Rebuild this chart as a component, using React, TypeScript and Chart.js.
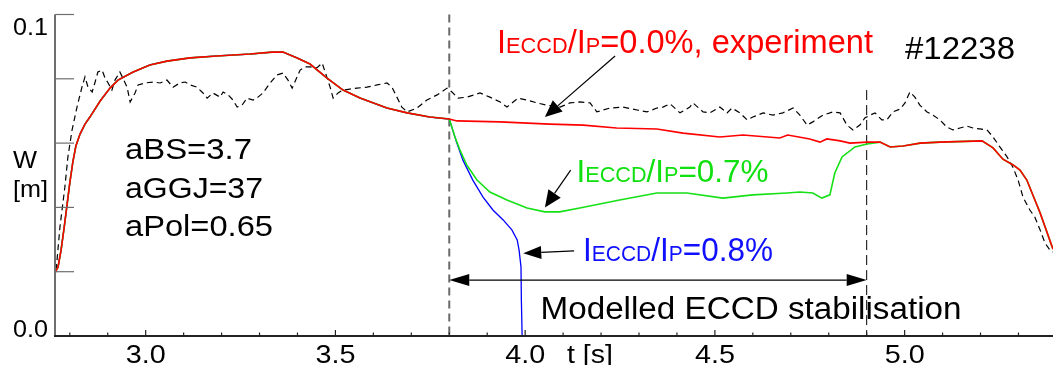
import React, { useEffect, useRef } from "react";
import { Chart, registerables } from "chart.js";

Chart.register(...registerables);

// ---------------- data (t [s], W [m]) ----------------
// common simulated part (all three ECCD cases coincide until 3.8 s)
const commonT = [2.762, 2.769, 2.777, 2.785, 2.792, 2.8, 2.808, 2.816, 2.827, 2.84, 2.853, 2.88, 2.906, 2.927, 2.967, 3.011, 3.056, 3.117, 3.188, 3.275, 3.333, 3.362, 3.399, 3.433, 3.478, 3.52, 3.565, 3.636, 3.689, 3.749, 3.8];
const commonW = [0.0199, 0.0215, 0.0267, 0.0336, 0.0401, 0.0476, 0.0541, 0.0591, 0.0628, 0.0659, 0.0681, 0.0731, 0.0771, 0.0796, 0.0821, 0.0843, 0.0855, 0.0865, 0.0871, 0.0877, 0.0883, 0.0883, 0.0865, 0.0846, 0.0802, 0.0765, 0.074, 0.0709, 0.0694, 0.0681, 0.0675];

// I_ECCD/I_P = 0.0 % during the ECCD window
const redT = [3.82, 3.933, 4.065, 4.153, 4.241, 4.347, 4.416, 4.513, 4.574, 4.671, 4.692, 4.75, 4.777, 4.795, 4.83, 4.856, 4.901];
const redW = [0.0669, 0.0666, 0.0659, 0.0656, 0.0647, 0.0644, 0.0631, 0.0619, 0.0625, 0.0616, 0.0625, 0.0613, 0.0603, 0.0613, 0.0607, 0.06, 0.0603];

// I_ECCD/I_P = 0.7 % during the ECCD window
const greenT = [3.815, 3.828, 3.846, 3.873, 3.907, 3.952, 4.005, 4.052, 4.091, 4.144, 4.249, 4.347, 4.426, 4.521, 4.6, 4.69, 4.724, 4.758, 4.782, 4.803, 4.816, 4.835, 4.869, 4.901];
const greenW = [0.0619, 0.0579, 0.0532, 0.0485, 0.0448, 0.0423, 0.0398, 0.0386, 0.0386, 0.0398, 0.0423, 0.0445, 0.0445, 0.0429, 0.0439, 0.0445, 0.0448, 0.0445, 0.0429, 0.0439, 0.0507, 0.0557, 0.0588, 0.0597];

// I_ECCD/I_P = 0.8 % (island grows until disruption)
const blueT = [3.82, 3.836, 3.862, 3.889, 3.915, 3.942, 3.965, 3.979, 3.984, 3.989, 3.99, 3.992, 3.993];
const blueW = [0.06, 0.0547, 0.0485, 0.0432, 0.0392, 0.0361, 0.033, 0.0299, 0.0267, 0.0215, 0.0112, 0.0, -0.01];

// common tail after the ECCD window
const tailT = [4.935, 4.962, 4.996, 5.041, 5.093, 5.204, 5.233, 5.259, 5.286, 5.304, 5.322, 5.357, 5.391];
const tailW = [0.0603, 0.0588, 0.0591, 0.06, 0.0603, 0.0607, 0.0585, 0.055, 0.0532, 0.0516, 0.0485, 0.0383, 0.027];

// experiment #12238
const expT = [2.764, 2.774, 2.787, 2.795, 2.806, 2.819, 2.832, 2.84, 2.848, 2.859, 2.866, 2.874, 2.885, 2.893, 2.901, 2.911, 2.919, 2.932, 2.94, 2.951, 2.959, 2.972, 2.98, 2.998, 3.019, 3.038, 3.056, 3.072, 3.09, 3.104, 3.117, 3.135, 3.151, 3.162, 3.177, 3.196, 3.204, 3.217, 3.23, 3.241, 3.254, 3.267, 3.283, 3.296, 3.309, 3.328, 3.346, 3.362, 3.375, 3.386, 3.399, 3.407, 3.42, 3.433, 3.451, 3.465, 3.473, 3.486, 3.494, 3.507, 3.52, 3.538, 3.557, 3.583, 3.61, 3.636, 3.649, 3.662, 3.675, 3.689, 3.715, 3.741, 3.768, 3.794, 3.807, 3.823, 3.847, 3.881, 3.907, 3.934, 3.952, 3.981, 4.005, 4.031, 4.057, 4.092, 4.118, 4.144, 4.171, 4.189, 4.223, 4.258, 4.295, 4.321, 4.347, 4.363, 4.382, 4.408, 4.434, 4.442, 4.469, 4.487, 4.513, 4.532, 4.545, 4.566, 4.585, 4.6, 4.627, 4.653, 4.679, 4.706, 4.724, 4.743, 4.758, 4.785, 4.811, 4.83, 4.848, 4.864, 4.882, 4.895, 4.909, 4.922, 4.94, 4.953, 4.969, 4.988, 5.001, 5.014, 5.027, 5.04, 5.059, 5.075, 5.093, 5.111, 5.127, 5.146, 5.164, 5.18, 5.198, 5.217, 5.233, 5.251, 5.27, 5.285, 5.299, 5.312, 5.33, 5.343, 5.357, 5.37, 5.383, 5.391];
const expW = [0.0205, 0.0339, 0.0463, 0.0557, 0.0641, 0.0712, 0.0774, 0.0806, 0.0774, 0.0759, 0.0787, 0.0821, 0.0827, 0.0802, 0.0787, 0.0765, 0.0796, 0.0821, 0.0802, 0.0774, 0.0728, 0.0756, 0.0781, 0.0787, 0.079, 0.0787, 0.0796, 0.0774, 0.0787, 0.079, 0.0781, 0.0774, 0.0756, 0.074, 0.0756, 0.0743, 0.0759, 0.075, 0.0734, 0.0712, 0.0718, 0.074, 0.0734, 0.0743, 0.0756, 0.0787, 0.0812, 0.0818, 0.0796, 0.0771, 0.0806, 0.0827, 0.0837, 0.0837, 0.0834, 0.0849, 0.0821, 0.0774, 0.074, 0.0756, 0.0765, 0.0768, 0.0771, 0.0774, 0.0781, 0.0787, 0.0774, 0.0743, 0.0712, 0.0697, 0.0709, 0.0734, 0.075, 0.0771, 0.0759, 0.074, 0.0743, 0.0756, 0.0743, 0.0728, 0.0712, 0.074, 0.0734, 0.0725, 0.0718, 0.0712, 0.0725, 0.0728, 0.0725, 0.0697, 0.0709, 0.0712, 0.0703, 0.0697, 0.0709, 0.0712, 0.0722, 0.0694, 0.0712, 0.0725, 0.0697, 0.0694, 0.0712, 0.0694, 0.0709, 0.0694, 0.0672, 0.0681, 0.0694, 0.0687, 0.0694, 0.0709, 0.0687, 0.0656, 0.0666, 0.0687, 0.0697, 0.0694, 0.0656, 0.0641, 0.0656, 0.0678, 0.0687, 0.0694, 0.0672, 0.0672, 0.0697, 0.0706, 0.0725, 0.0759, 0.0743, 0.0718, 0.0697, 0.0687, 0.0672, 0.065, 0.0641, 0.0647, 0.0653, 0.0647, 0.0644, 0.0641, 0.0619, 0.0588, 0.0557, 0.0526, 0.0485, 0.0432, 0.0392, 0.037, 0.033, 0.0289, 0.0267, 0.0261];

// axis ticks
const xMajorTicks = [3.0, 3.5, 4.0, 4.5, 5.0];
const xMajorLabels = ["3.0", "3.5", "4.0", "4.5", "5.0"];
const xMinorTicks = [2.8, 2.9, 3.1, 3.2, 3.3, 3.4, 3.6, 3.7, 3.8, 3.9, 4.1, 4.2, 4.3, 4.4, 4.6, 4.7, 4.8, 4.9, 5.1, 5.2, 5.3];
const yTicks = [0.02, 0.04, 0.06, 0.08, 0.1];
const yLabelValues = [0.0, 0.1];
const yLabels = ["0.0", "0.1"];

// ECCD window
const eccdStart = 3.8;
const eccdEnd = 4.9;

const X_MIN = 2.761;
const X_MAX = 5.391;

// ---------------- helpers ----------------
const FONT = '"Liberation Sans", Arial, Helvetica, sans-serif';
type Part = { t: string; s: number };

const pts = (ts: number[], ws: number[]) => ts.map((t, i) => ({ x: t, y: ws[i] }));

function drawFit(
  ctx: CanvasRenderingContext2D,
  parts: Part[],
  x: number,
  base: number,
  width: number,
  color: string,
  align: "left" | "center" | "right" = "left"
) {
  ctx.save();
  let total = 0;
  const ws = parts.map((p) => {
    ctx.font = `${p.s}px ${FONT}`;
    const w = ctx.measureText(p.t).width;
    total += w;
    return w;
  });
  const sx = width / total;
  const x0 = align === "left" ? x : align === "center" ? x - width / 2 : x - width;
  ctx.translate(x0, base);
  ctx.scale(sx, 1);
  ctx.fillStyle = color;
  ctx.textBaseline = "alphabetic";
  ctx.textAlign = "left";
  let cx = 0;
  parts.forEach((p, i) => {
    ctx.font = `${p.s}px ${FONT}`;
    ctx.fillText(p.t, cx, 0);
    cx += ws[i];
  });
  ctx.restore();
}

function arrowHead(ctx: CanvasRenderingContext2D, fx: number, fy: number, tx: number, ty: number, len: number, half: number) {
  const a = Math.atan2(ty - fy, tx - fx);
  const bx = tx - len * Math.cos(a);
  const by = ty - len * Math.sin(a);
  ctx.beginPath();
  ctx.moveTo(tx, ty);
  ctx.lineTo(bx + half * Math.sin(a), by - half * Math.cos(a));
  ctx.lineTo(bx - half * Math.sin(a), by + half * Math.cos(a));
  ctx.closePath();
  ctx.fill();
  return [bx, by];
}

function arrow(ctx: CanvasRenderingContext2D, x1: number, y1: number, x2: number, y2: number, len: number, half: number) {
  const [bx, by] = arrowHead(ctx, x1, y1, x2, y2, len, half);
  ctx.beginPath();
  ctx.moveTo(x1, y1);
  ctx.lineTo(bx, by);
  ctx.stroke();
}

function eccdLabel(ratio: string, big: number, small: number): Part[] {
  return [
    { t: "I", s: big },
    { t: "ECCD", s: small },
    { t: "/I", s: big },
    { t: "P", s: small },
    { t: ratio, s: big },
  ];
}

const overlay = {
  id: "overlay",
  beforeDatasetsDraw(chart: any) {
    const { ctx } = chart;
    const xs = chart.scales.x;
    const ys = chart.scales.y;
    ctx.save();
    // ECCD window markers
    ctx.strokeStyle = "#6a6a6a";
    ctx.lineWidth = 2;
    ctx.setLineDash([8, 5]);
    const xa = xs.getPixelForValue(eccdStart);
    ctx.beginPath();
    ctx.moveTo(xa, ys.getPixelForValue(0.1));
    ctx.lineTo(xa, ys.getPixelForValue(0));
    ctx.stroke();
    ctx.strokeStyle = "#000";
    ctx.lineWidth = 1;
    ctx.setLineDash([10, 5]);
    const xb = xs.getPixelForValue(eccdEnd);
    ctx.beginPath();
    ctx.moveTo(xb, ys.getPixelForValue(0.0765));
    ctx.lineTo(xb, ys.getPixelForValue(0));
    ctx.stroke();
    ctx.restore();
  },
  afterDatasetsDraw(chart: any) {
    const { ctx } = chart;
    const xs = chart.scales.x;
    const ys = chart.scales.y;
    const left = chart.chartArea.left;
    const right = chart.chartArea.right;
    const y0 = ys.getPixelForValue(0);
    const yTop = ys.getPixelForValue(0.1);
    ctx.save();
    ctx.setLineDash([]);
    // left axis
    ctx.strokeStyle = "#6e6e6e";
    ctx.lineWidth = 2;
    ctx.beginPath();
    ctx.moveTo(left, yTop);
    ctx.lineTo(left, y0);
    ctx.stroke();
    ctx.lineWidth = 1.2;
    yTicks.forEach((v) => {
      const py = ys.getPixelForValue(v);
      ctx.beginPath();
      ctx.moveTo(left, py);
      ctx.lineTo(left + 19, py);
      ctx.stroke();
    });
    // bottom axis
    ctx.strokeStyle = "#222";
    ctx.lineWidth = 2;
    ctx.beginPath();
    ctx.moveTo(left - 1, y0);
    ctx.lineTo(right, y0);
    ctx.stroke();
    ctx.lineWidth = 1.2;
    xMinorTicks.forEach((v) => {
      const px = xs.getPixelForValue(v);
      ctx.beginPath();
      ctx.moveTo(px, y0);
      ctx.lineTo(px, y0 - 3.5);
      ctx.stroke();
    });
    xMajorTicks.forEach((v, i) => {
      const px = xs.getPixelForValue(v);
      ctx.beginPath();
      ctx.moveTo(px, y0);
      ctx.lineTo(px, y0 - 6);
      ctx.stroke();
      drawFit(ctx, [{ t: xMajorLabels[i], s: 26 }], px, 363, 40, "#000", "center");
    });
    drawFit(ctx, [{ t: "t [s]", s: 26 }], 567, 363, 46, "#000");
    // y labels
    yLabelValues.forEach((v, i) => {
      const py = ys.getPixelForValue(v);
      drawFit(ctx, [{ t: yLabels[i], s: 24 }], 48, v === 0 ? py + 0.5 : py + 20.5, 35, "#000", "right");
    });
    drawFit(ctx, [{ t: "W", s: 24 }], 13, 168.3, 24, "#000");
    drawFit(ctx, [{ t: "[m]", s: 24 }], 13, 197, 35, "#000");

    // parameters
    drawFit(ctx, [{ t: "aBS=3.7", s: 30 }], 125, 159, 127, "#000");
    drawFit(ctx, [{ t: "aGGJ=37", s: 30 }], 125, 197.5, 138, "#000");
    drawFit(ctx, [{ t: "aPol=0.65", s: 30 }], 125, 236, 148, "#000");
    drawFit(ctx, [{ t: "#12238", s: 31 }], 905, 58.5, 110, "#000");

    // case labels
    drawFit(ctx, eccdLabel("=0.0%, experiment", 33, 22), 497, 53, 376, "#ff0000");
    drawFit(ctx, eccdLabel("=0.7%", 32, 22), 576.5, 182, 192, "#10e010");
    drawFit(ctx, eccdLabel("=0.8%", 33, 22), 583, 260.5, 190, "#1010ff");
    drawFit(ctx, [{ t: "Modelled ECCD stabilisation", s: 31 }], 540.5, 318.5, 421, "#000");

    // arrows
    ctx.strokeStyle = "#000";
    ctx.fillStyle = "#000";
    ctx.lineWidth = 1.2;
    arrow(ctx, xs.getPixelForValue(4.237), ys.getPixelForValue(0.0871), xs.getPixelForValue(4.052), ys.getPixelForValue(0.0681), 17, 7.5);
    arrow(ctx, xs.getPixelForValue(4.12), ys.getPixelForValue(0.0516), xs.getPixelForValue(4.052), ys.getPixelForValue(0.04), 17, 7.5);
    arrow(ctx, xs.getPixelForValue(4.129), ys.getPixelForValue(0.0265), xs.getPixelForValue(3.995), ys.getPixelForValue(0.0257), 18, 6.5);
    // ECCD window double arrow
    const ya = ys.getPixelForValue(0.0174);
    const xa = xs.getPixelForValue(eccdStart);
    const xb = xs.getPixelForValue(eccdEnd);
    const [b1] = arrowHead(ctx, xb, ya, xa, ya, 20, 6);
    const [b2] = arrowHead(ctx, xa, ya, xb, ya, 20, 6);
    ctx.beginPath();
    ctx.moveTo(b1, ya);
    ctx.lineTo(b2, ya);
    ctx.stroke();
    ctx.restore();
  },
};

export default function App() {
  const ref = useRef<HTMLCanvasElement>(null);
  useEffect(() => {
    if (!ref.current) return;
    const red = [...pts(commonT, commonW), ...pts(redT, redW), ...pts(tailT, tailW)];
    const green = [...pts(commonT, commonW), ...pts(greenT, greenW), ...pts(tailT, tailW)];
    const blue = [...pts(commonT, commonW), ...pts(blueT, blueW)];
    const exp = pts(expT, expW);
    const chart = new Chart(ref.current, {
      type: "line",
      data: {
        datasets: [
          { label: "0.0%", data: red, borderColor: "#ff0000", borderWidth: 1.6, order: 0 },
          { label: "0.7%", data: green, borderColor: "#16e016", borderWidth: 1.6, order: 1 },
          { label: "0.8%", data: blue, borderColor: "#0000ff", borderWidth: 1.3, order: 2 },
          { label: "experiment", data: exp, borderColor: "#000", borderWidth: 1.2, borderDash: [6, 4], order: 3 },
        ],
      },
      options: {
        animation: false,
        responsive: false,
        maintainAspectRatio: false,
        parsing: false as any,
        layout: { padding: { left: 55, top: 14.5, right: 0, bottom: 29 } },
        elements: { point: { radius: 0 }, line: { tension: 0, fill: false } },
        plugins: { legend: { display: false }, tooltip: { enabled: false } },
        scales: {
          x: { type: "linear", min: X_MIN, max: X_MAX, display: false },
          y: { type: "linear", min: 0, max: 0.1, display: false },
        },
      },
      plugins: [overlay],
    });
    return () => chart.destroy();
  }, []);
  return (
    <div style={{ position: "absolute", left: 0, top: 0, width: 1053, height: 365, background: "#fff" }}>
      <canvas ref={ref} width={1053} height={365} style={{ display: "block", width: 1053, height: 365 }} />
    </div>
  );
}
